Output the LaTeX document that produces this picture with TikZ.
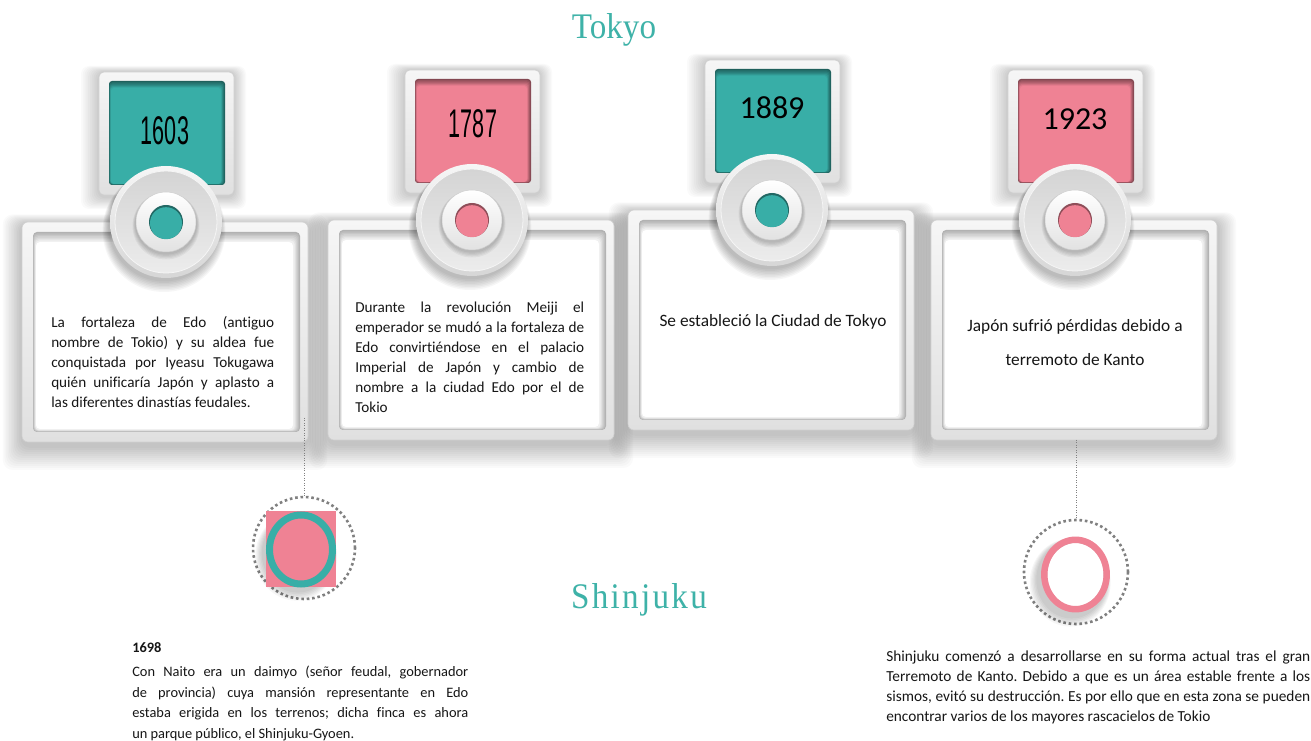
\documentclass[tikz,border=0pt]{standalone}
\usepackage{fontspec}
\usepackage{graphicx}
\setmainfont{Carlito}[Ligatures=NoCommon]
\newfontfamily\titlefont[FakeStretch=0.92]{Liberation Serif}
\newfontfamily\titlefontwide[FakeStretch=0.92,LetterSpace=6.4]{Liberation Serif}
\newfontfamily\agencyfont[FakeStretch=0.54]{Liberation Sans}
\definecolor{tealc}{RGB}{56,174,167}
\definecolor{pinkc}{RGB}{239,130,148}
\definecolor{titlec}{RGB}{62,178,168}
\definecolor{framehi}{RGB}{246,246,246}
\definecolor{framelo}{RGB}{224,224,224}
\definecolor{framedge}{RGB}{208,208,208}
\definecolor{diskhi}{RGB}{246,246,246}
\definecolor{disklo}{RGB}{214,214,214}
\definecolor{diskin}{RGB}{212,212,212}
\definecolor{diskin2}{RGB}{236,236,236}
\definecolor{ringlo}{RGB}{226,226,226}
\definecolor{ringedge}{RGB}{205,205,205}
\definecolor{dotc}{RGB}{128,128,128}
\definecolor{inkc}{RGB}{22,22,22}
\newdimen\pxu \pxu=0.75pt

\newcommand\cardshadow[2]{%
  \foreach \k in {1,...,12}{%
    \fill[black,opacity=0.02,rounded corners=10\pxu] ({#1-144-1.6*\k},{#2+2-0.8*\k}) rectangle ({#1+142+1.6*\k},{#2+224+2.0*\k});
  }%
  \foreach \k in {1,...,10}{%
    \fill[black,opacity=0.02,rounded corners=8\pxu] ({#1-67-1.8*\k},{#2-150-0.6*\k}) rectangle ({#1+68+1.2*\k},{#2-25+1.2*\k});
  }%
}

\newcommand\timecard[3]{%
  % text box frame
  \shadedraw[top color=framehi,bottom color=framelo,draw=framedge,line width=0.6\pxu,rounded corners=6\pxu] ({#1-144},{#2}) rectangle ({#1+142},{#2+220});
  \foreach \k in {0,...,6}{%
    \pgfmathtruncatemacro\gv{30-4*\k}
    \fill[black!\gv,rounded corners=4\pxu] ({#1-133+0.4*\k},{#2+10+1.4*\k}) rectangle ({#1+134-0.9*\k},{#2+210-0.3*\k});
  }%
  \fill[white,rounded corners=4\pxu] ({#1-130},{#2+20}) rectangle ({#1+127},{#2+207});
  % year box frame
  \shadedraw[top color=framehi,bottom color=framelo,draw=framedge,line width=0.6\pxu,rounded corners=5\pxu] ({#1-67},{#2-150}) rectangle ({#1+68},{#2-27});
  \foreach \k in {0,...,5}{%
    \pgfmathtruncatemacro\cm{55+8*\k}
    \fill[#3!\cm!black,rounded corners=3\pxu] ({#1-57+0.3*\k},{#2-141+1.2*\k}) rectangle ({#1+59-0.7*\k},{#2-37-0.3*\k});
  }%
  \fill[#3,rounded corners=3\pxu] ({#1-55},{#2-134}) rectangle ({#1+55},{#2-38});
  % disk
  \foreach \k in {1,...,8}{%
    \fill[black,opacity=0.035] ({#1-2},{#2+3+0.7*\k}) circle[radius={55+0.8*\k}];
  }%
  \shade[top color=diskhi,bottom color=disklo] (#1,#2) circle[radius=56];
  \shade[top color=diskin,bottom color=diskin2] (#1,#2) circle[radius=51];
  \draw[white!96!black,line width=0.8\pxu] (#1,#2) circle[radius=51];
  % raised ring
  \foreach \k in {1,...,5}{%
    \fill[black,opacity=0.045] (#1,{#2+1.5+0.5*\k}) circle[radius={30+0.7*\k}];
  }%
  \shadedraw[top color=white,bottom color=ringlo,draw=ringedge,line width=0.5\pxu] (#1,#2) circle[radius=30];
  \fill[#3!60!black] (#1,#2) circle[radius=17];
  \fill[#3] (#1,{#2+1.2}) circle[radius=16];
}

\tikzset{
  cardtext/.style={font=\fontsize{11.4}{15}\selectfont, text=inkc, align=justify, inner sep=0pt},
  centertext/.style={font=\fontsize{13}{15}\selectfont, text=inkc, align=center, inner sep=0pt},
  yearA/.style={font=\agencyfont\fontsize{30}{32}\selectfont, text=black, inner sep=0pt},
  yearB/.style={font=\fontsize{24}{28}\selectfont, text=black, inner sep=0pt},
  titletext/.style={text=titlec, inner sep=0pt},
  dotring/.style={circle, draw=dotc, line width=2.6\pxu, dash pattern=on 2.6\pxu off 2.8\pxu, inner sep=0pt},
  connector/.style={draw=gray, line width=0.8\pxu, dash pattern=on 1\pxu off 1.5\pxu},
}

\begin{document}
\hyphenpenalty=10000
\exhyphenpenalty=10000
\frenchspacing
\begin{tikzpicture}[x=0.75pt,y=-0.75pt]
\useasboundingbox (0,0) rectangle (1311,741);
\fill[white] (0,0) rectangle (1311,741);

% shadows first
\cardshadow{166}{222}
\cardshadow{472}{220}
\cardshadow{772}{210}
\cardshadow{1075}{220}

% cards
\timecard{166}{222}{tealc}
\timecard{472}{220}{pinkc}
\timecard{772}{210}{tealc}
\timecard{1075}{220}{pinkc}

% titles
\node[titletext, font=\titlefont\fontsize{27}{30}\selectfont] (tokyo) at (614,30) {Tokyo};
\node[titletext, font=\titlefontwide\fontsize{27}{30}\selectfont] (shinjuku) at (639,600) {Shinjuku};

% years
\node[yearA] (y1) at (165,131) {1603};
\node[yearA] (y2) at (473,124) {1787};
\node[yearB] (y3) at (772,108) {1889};
\node[yearB] (y4) at (1075,119) {1923};

% card texts
\node[cardtext, text width=223\pxu, anchor=north west] (t1) at (51,316) {La fortaleza de Edo (antiguo\linebreak nombre de Tokio) y su aldea fue\linebreak conquistada por Iyeasu Tokugawa\linebreak quién unificaría Japón y aplasto a\linebreak las diferentes dinastías feudales.};
\node[cardtext, text width=229\pxu, anchor=north west] (t2) at (355,302) {Durante la revolución Meiji el\linebreak emperador se mudó a la fortaleza de\linebreak Edo convirtiéndose en el palacio\linebreak Imperial de Japón y cambio de\linebreak nombre a la ciudad Edo por el de\linebreak Tokio};
\node[centertext] (t3) at (773,322) {Se estableció la Ciudad de Tokyo};
\node[centertext] (t4) at (1075,343) {Japón sufrió pérdidas debido a\\[10.5pt]terremoto de Kanto};

% connectors and dotted rings
\node[dotring, minimum size=102\pxu] (dc1) at (304,548) {};
\node[dotring, minimum size=104\pxu] (dc2) at (1076,572) {};
\coordinate (c1) at (304,418);
\coordinate (c4) at (1076,440);
\draw[connector] (c1) -- (dc1.north);
\draw[connector] (c4) -- (dc2.north);

% ring 1 (teal on pink square)
\foreach \k in {1,...,6}{%
  \draw[black,opacity=0.035,line width={(7+2*\k)*0.75}] ({298-0.3*\k},{553+0.6*\k}) ellipse[x radius=31.5, y radius=34.5];
}
\fill[pinkc] (266,511) rectangle (336,587);
\draw[tealc, line width=7\pxu] (301,549.5) ellipse[x radius=31.5, y radius=34.5];

% ring 2 (pink)
\foreach \k in {1,...,6}{%
  \draw[black,opacity=0.035,line width={(6.5+2*\k)*0.75}] ({1072-0.3*\k},{579+0.6*\k}) ellipse[x radius=31.2, y radius=34.7];
}
\fill[white] (1075.5,574.5) ellipse[x radius=28, y radius=31.5];
\draw[pinkc, line width=6.5\pxu] (1075.5,574.5) ellipse[x radius=31.2, y radius=34.7];

% bottom texts
\node[cardtext, font=\fontsize{10.8}{15.4}\selectfont, text width=336\pxu, anchor=north west] (b1) at (132,642) {\textbf{1698}\\[3pt]Con Naito era un daimyo (señor feudal, gobernador\linebreak de provincia) cuya mansión representante en Edo\linebreak estaba erigida en los terrenos; dicha finca es ahora\linebreak un parque público, el Shinjuku-Gyoen.};
\node[cardtext, font=\fontsize{11.5}{15}\selectfont, text width=424\pxu, anchor=north west] (b2) at (886,651) {Shinjuku comenzó a desarrollarse en su forma actual tras el gran\linebreak Terremoto de Kanto. Debido a que es un área estable frente a los\linebreak sismos, evitó su destrucción. Es por ello que en esta zona se pueden\linebreak encontrar varios de los mayores rascacielos de Tokio};
\end{tikzpicture}
\end{document}
